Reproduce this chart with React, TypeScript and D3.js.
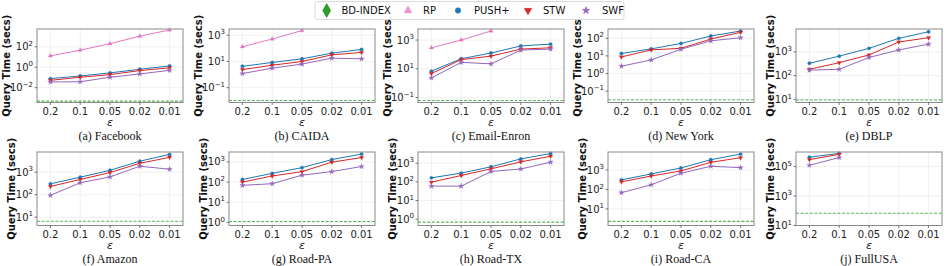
import React from "react";
import * as d3 from "d3";

// ---------- data ----------
const EPS = ["0.2", "0.1", "0.05", "0.02", "0.01"];
const CAPTIONS = [
  "(a) Facebook", "(b) CAIDA", "(c) Email-Enron", "(d) New York", "(e) DBLP",
  "(f) Amazon", "(g) Road-PA", "(h) Road-TX", "(i) Road-CA", "(j) FullUSA",
];
// BD-INDEX query time (horizontal reference line per dataset)
const BD_INDEX = [0.00048, 0.0105, 0.062, 0.032, 9.5, 6.6, 1.12, 0.69, 2.3, 68];

const RP: (number | null)[][] = [
  [13, 47, 200, 1100, 4400],
  [133, 520, 2300, null, null],
  [290, 1000, 4300, null, null],
  [null, null, null, null, null],
  [null, null, null, null, null],
  [null, null, null, null, null],
  [null, null, null, null, null],
  [null, null, null, null, null],
  [null, null, null, null, null],
  [null, null, null, null, null],
];
const PUSH_PLUS: (number | null)[][] = [
  [0.077, 0.14, 0.28, 0.63, 1.35],
  [4.3, 8.4, 16, 43, 84],
  [6.8, 50, 125, 390, 520],
  [13.7, 25, 51, 135, 260],
  [330, 660, 1400, 3700, 7000],
  [305, 600, 1220, 3100, 6200],
  [135, 270, 520, 1300, 2450],
  [164, 295, 640, 1700, 3300],
  [310, 625, 1260, 3350, 6500],
  [430000, 790000, null, null, null],
];
const STW: (number | null)[][] = [
  [0.052, 0.105, 0.19, 0.47, 0.87],
  [2.4, 5.2, 10, 32, 49],
  [4.7, 43, 76, 235, 290],
  [8.7, 22, 27, 91, 220],
  [185, 350, 740, 2600, 3900],
  [233, 475, 970, 2500, 4600],
  [100, 200, 330, 970, 1640],
  [96, 220, 500, 1180, 2350],
  [245, 490, 890, 2450, 4250],
  [296000, 680000, null, null, null],
];
const SWF: (number | null)[][] = [
  [0.036, 0.038, 0.105, 0.22, 0.5],
  [1.2, 3.1, 6.3, 18, 16],
  [2.3, 28, 22, 200, 235],
  [2.6, 5.9, 24, 72, 108],
  [170, 185, 580, 1200, 2100],
  [94, 340, 620, 1850, 1360],
  [69, 83, 220, 330, 590],
  [59, 59, 360, 490, 1130],
  [68, 173, 680, 1540, 1310],
  [123000, 410000, null, null, null],
];
// y-axis ranges (log10 exponents) and major tick exponents
const Y_EXTENT = [
  [-3.45, 3.74], [-2.13, 3.48], [-1.35, 3.77], [-1.65, 2.53], [0.87, 3.96],
  [0.63, 3.9], [-0.15, 3.49], [-0.34, 3.6], [0.15, 3.92], [1.0, 5.99],
];
const Y_TICKS = [
  [-2, 0, 2], [-1, 1, 3], [-1, 1, 3], [-1, 0, 1, 2], [1, 2, 3],
  [1, 2, 3], [0, 1, 2, 3], [0, 1, 2, 3], [1, 2, 3], [1, 3, 5],
];

const SERIES = [
  { name: "RP", data: RP, color: "#e377c2", marker: "triUp" },
  { name: "PUSH+", data: PUSH_PLUS, color: "#1f77b4", marker: "circle" },
  { name: "STW", data: STW, color: "#d62728", marker: "triDown" },
  { name: "SWF", data: SWF, color: "#9467bd", marker: "star" },
];

// ---------- layout ----------
const LEFTS = [37, 229, 418, 608, 796];
const TOPS = [29, 152];
const W = 146;
const H = 73.5;
const SANS = "DejaVu Sans, sans-serif";

function markerPath(kind: string, size: number) {
  const t =
    kind === "circle" ? d3.symbolCircle :
    kind === "star" ? d3.symbolStar :
    kind === "diamond" ? d3.symbolDiamond :
    d3.symbolTriangle;
  return d3.symbol().type(t).size(size)() as string;
}

function Marker({ kind, x, y, color, size }: any) {
  const rot = kind === "triDown" ? 180 : 0;
  return (
    <path
      d={markerPath(kind, size)}
      transform={`translate(${x},${y}) rotate(${rot})`}
      fill={color}
      stroke={color}
      strokeWidth={0.3}
    />
  );
}

function Sup({ exp, x, y }: any) {
  const s = exp < 0 ? "\u2212" + Math.abs(exp) : String(exp);
  return (
    <text x={x} y={y} fontFamily={SANS} fontSize={10} textAnchor="end" fill="#222">
      10<tspan dy={-4.5} fontSize={7}>{s}</tspan>
    </text>
  );
}

function Panel({ i }: { i: number }) {
  const row = Math.floor(i / 5);
  const col = i % 5;
  const left = LEFTS[col];
  const top = TOPS[row];
  const x = d3.scaleLinear().domain([-0.45, 4.45]).range([left, left + W]);
  const [lo, hi] = Y_EXTENT[i];
  const y = d3.scaleLog().domain([10 ** lo, 10 ** hi]).range([top + H, top]);
  const ticks = Y_TICKS[i];
  const maxLabelW = d3.max(ticks, (t) => 12.7 + (t < 0 ? 9.5 : 4.5) * (String(Math.abs(t)).length)) as number;
  const ylabelX = left - 4 - maxLabelW - 4;
  const line = d3
    .line<[number, number | null]>()
    .defined((d) => d[1] != null)
    .x((d) => x(d[0]))
    .y((d) => y(d[1] as number));

  return (
    <g>
      {/* grid */}
      {EPS.map((_, k) => (
        <line key={"gx" + k} x1={x(k)} x2={x(k)} y1={top} y2={top + H} stroke="#ebebeb" strokeWidth={0.7} />
      ))}
      {ticks.map((t) => (
        <line key={"gy" + t} x1={left} x2={left + W} y1={y(10 ** t)} y2={y(10 ** t)} stroke="#ebebeb" strokeWidth={0.7} />
      ))}
      {/* BD-INDEX */}
      <line
        x1={left}
        x2={left + W}
        y1={y(BD_INDEX[i])}
        y2={y(BD_INDEX[i])}
        stroke="#2ca02c"
        strokeOpacity={0.8}
        strokeWidth={1.1}
        strokeDasharray="3,1.6"
      />
      {SERIES.map((s) => {
        const vals = s.data[i];
        const pts: [number, number | null][] = vals.map((v, k) => [k, v]);
        return (
          <g key={s.name}>
            <path d={line(pts) || ""} fill="none" stroke={s.color} strokeWidth={1} />
            {pts
              .filter((p) => p[1] != null)
              .map((p) => (
                <Marker key={p[0]} kind={s.marker} x={x(p[0])} y={y(p[1] as number)} color={s.color} size={s.marker === "star" ? 9 : s.marker === "circle" ? 9 : 8} />
              ))}
          </g>
        );
      })}
      {/* frame */}
      <rect x={left} y={top} width={W} height={H} fill="none" stroke="#8a8a8a" strokeWidth={1} />
      {/* x ticks */}
      {EPS.map((e, k) => (
        <g key={"xt" + k}>
          <line x1={x(k)} x2={x(k)} y1={top + H} y2={top + H + 2.5} stroke="#444" strokeWidth={0.7} />
          <text x={x(k)} y={top + H + 12} fontFamily={SANS} fontSize={10} textAnchor="middle" fill="#222">
            {e}
          </text>
        </g>
      ))}
      {/* y ticks */}
      {ticks.map((t) => (
        <g key={"yt" + t}>
          <line x1={left - 2.5} x2={left} y1={y(10 ** t)} y2={y(10 ** t)} stroke="#444" strokeWidth={0.7} />
          <Sup exp={t} x={left - 4} y={y(10 ** t) + 3.6} />
        </g>
      ))}
      {/* axis labels */}
      <text
        x={x(2)}
        y={top + H + 23}
        fontFamily={SANS}
        fontStyle="italic"
        fontSize={11}
        textAnchor="middle"
        fill="#222"
      >
        ε
      </text>
      <text
        transform={`translate(${ylabelX},${top + H / 2}) rotate(-90)`}
        fontFamily={SANS}
        fontWeight="bold"
        fontSize={10}
        textAnchor="middle"
        dy="0.35em"
        fill="#111"
      >
        Query Time (secs)
      </text>
      <text
        x={left + W / 2}
        y={top + H + 37}
        fontFamily="Liberation Serif, Times New Roman, serif"
        fontSize={12}
        textAnchor="middle"
        fill="#111"
      >
        {CAPTIONS[i]}
      </text>
    </g>
  );
}

const LEGEND = [
  { name: "BD-INDEX", color: "#2ca02c", marker: "diamond", mx: 326.7, tx: 341.5, size: 55 },
  { name: "RP", color: "#e377c2", marker: "triUp", mx: 408, tx: 423, size: 24 },
  { name: "PUSH+", color: "#1f77b4", marker: "circle", mx: 458, tx: 474, size: 24 },
  { name: "STW", color: "#d62728", marker: "triDown", mx: 528, tx: 543, size: 24 },
  { name: "SWF", color: "#9467bd", marker: "star", mx: 586, tx: 602, size: 18 },
];

export default function App() {
  return (
    <svg width={947} height={266} style={{ position: "absolute", left: 0, top: 0, background: "#fff" }}>
      <rect width={947} height={266} fill="#fff" />
      {d3.range(10).map((i) => (
        <Panel key={i} i={i} />
      ))}
      <rect x={315} y={1.5} width={309} height={18} rx={2.5} fill="#fff" stroke="#d0d0d0" strokeWidth={0.8} />
      {LEGEND.map((l) => (
        <g key={l.name}>
          <path
            d={markerPath(l.marker, l.size)}
            transform={`translate(${l.mx},10.5) rotate(${l.marker === "triDown" ? 180 : 0})`}
            fill={l.color}
            stroke={l.marker === "diamond" ? "#1a6e1a" : l.color}
            strokeWidth={0.5}
            fillOpacity={l.marker === "triUp" ? 0.8 : 1}
          />
          <text x={l.tx} y={14} fontFamily={SANS} fontSize={10} fill="#111">
            {l.name}
          </text>
        </g>
      ))}
    </svg>
  );
}
